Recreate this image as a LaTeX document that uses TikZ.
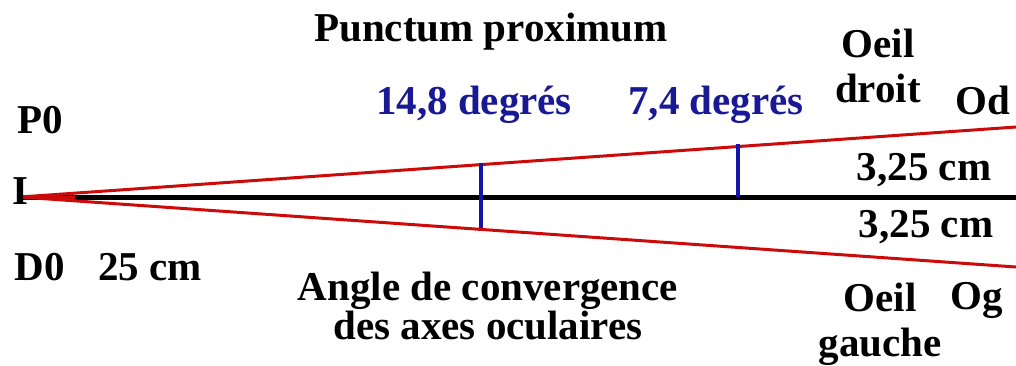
\documentclass[tikz,border=0pt]{standalone}
\usepackage{fontspec}
\setmainfont{Liberation Serif}

\definecolor{axisred}{RGB}{205, 10, 10}
\definecolor{anglebar}{RGB}{20, 20, 170}
\definecolor{angletext}{RGB}{25, 25, 150}

\tikzset{
    txt/.style    = {font=\fontsize{41}{35}\selectfont\bfseries, inner sep=0pt, align=center},
    eyetxt/.style = {txt, font=\fontsize{41}{45}\selectfont\bfseries},
    bluetxt/.style = {txt, text=angletext},
    eyeaxis/.style = {draw=axisred, line width=3pt},
    midaxis/.style = {draw=black, line width=5pt},
    anglebar/.style = {draw=anglebar, line width=4pt}
}

\begin{document}
\begin{tikzpicture}[x=1pt, y=-1pt]
    \useasboundingbox (0,0) rectangle (1016,365);

    % points of the figure
    \coordinate (I)  at (20,197);
    \coordinate (Ax) at (1016,197);
    \coordinate (Od) at (1016,127);
    \coordinate (Og) at (1016,267);
    \coordinate (b1top) at (481,163);
    \coordinate (b1bot) at (481,228);
    \coordinate (b2top) at (738,144);
    \coordinate (b2bot) at (738,197);

    % axes
    \draw[midaxis] (I) -- (Ax);
    \draw[eyeaxis] (I) -- (Od);
    \draw[eyeaxis] (I) -- (Og);
    \draw[eyeaxis] (I) -- ++(55,0);

    % angle marks
    \draw[anglebar] (b1top) -- (b1bot);
    \draw[anglebar] (b2top) -- (b2bot);

    % labels
    \node[txt] (pp)    at (491,32)  {Punctum proximum};
    \node[txt] (p0)    at (40,120)  {P0};
    \node[txt] (ipt)   at (20,191)  {I};
    \node[txt] (d0)    at (40,267)  {D0};
    \node[txt] (dist)  at (150,267) {25 cm};
    \node[bluetxt] (a1) at (474,105) {14,8 degrés};
    \node[bluetxt] (a2) at (716,105) {7,4 degrés};
    \node[txt] (conv)  at (488,306) {Angle de convergence\\des axes oculaires};
    \node[eyetxt] (oeild) at (878,66)  {Oeil\\droit};
    \node[txt] (od)    at (983,100) {Od};
    \node[txt] (h1)    at (924,170) {3,25 cm};
    \node[txt] (h2)    at (926,227) {3,25 cm};
    \node[eyetxt] (oeilg) at (880,324) {Oeil\\gauche};
    \node[txt] (og)    at (977,300) {Og};
\end{tikzpicture}
\end{document}
